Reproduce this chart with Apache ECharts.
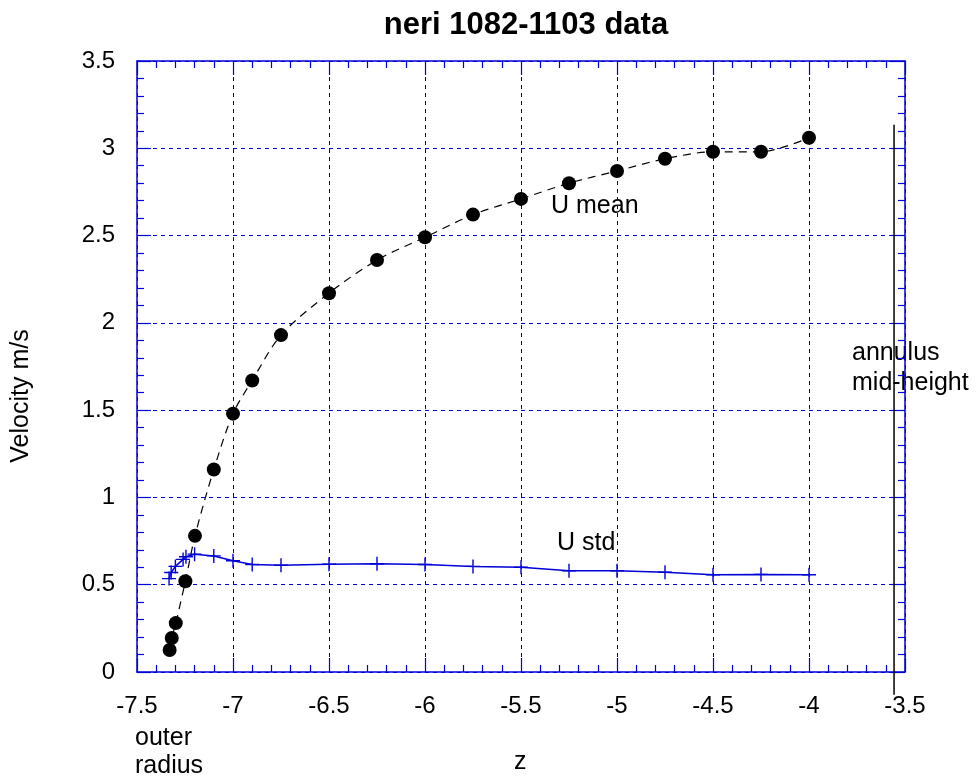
<!DOCTYPE html>
<html>
<head>
<meta charset="utf-8">
<script src="https://cdn.jsdelivr.net/npm/echarts@6/dist/echarts.min.js"></script>
<style>html,body{margin:0;padding:0;background:#fff}#c{width:977px;height:778px}</style>
</head>
<body>
<div id="c"></div>
<script>
// U mean: z positions and velocities
const meanZ = [-7.33, -7.319, -7.298, -7.248, -7.198, -7.10, -7.0, -6.90, -6.75, -6.5, -6.25, -6.0, -5.75, -5.5, -5.25, -5.0, -4.75, -4.5, -4.25, -4.0];
const meanU = [0.126, 0.195, 0.28, 0.52, 0.78, 1.16, 1.48, 1.67, 1.93, 2.17, 2.36, 2.49, 2.62, 2.71, 2.80, 2.87, 2.94, 2.98, 2.98, 3.06];
// U std
const stdZ = [-7.333, -7.322, -7.30, -7.26, -7.245, -7.2, -7.1, -7.0, -6.9, -6.75, -6.5, -6.25, -6.0, -5.75, -5.5, -5.25, -5.0, -4.75, -4.5, -4.25, -4.0];
const stdU = [0.535, 0.57, 0.605, 0.645, 0.66, 0.675, 0.665, 0.637, 0.616, 0.612, 0.617, 0.62, 0.616, 0.605, 0.60, 0.58, 0.58, 0.572, 0.557, 0.559, 0.557];
// annulus mid-height marker line
const midZ = [-3.557, -3.557];
const midU = [3.135, -0.13];

const xTicks = {min: -7.5, max: -3.5, interval: 0.5};
const yTicks = {min: 0, max: 3.5, interval: 0.5};

const BLUE = '#0000d8';
const FONT = 'Liberation Sans, Arial, sans-serif';
const zip = (a, b) => a.map((v, i) => [v, b[i]]);

const chart = echarts.init(document.getElementById('c'), null, {renderer: 'canvas'});
function axisCommon(show) {
  return {
    axisLine: {show: true, onZero: false, lineStyle: {color: BLUE, width: 1.5}},
    axisTick: {show: true, inside: true, length: 14, lineStyle: {color: BLUE, width: 1.2}},
    minorTick: {show: true, splitNumber: 5, length: 7, lineStyle: {color: BLUE, width: 1.2}},
    splitLine: {show: show, lineStyle: {color: BLUE, type: [4, 4], width: 1}},
  };
}
const option = {
  animation: false,
  backgroundColor: '#fff',
  title: {
    text: 'neri 1082-1103 data', left: 521, top: 5, textAlign: 'center',
    textStyle: {fontFamily: FONT, fontSize: 31, fontWeight: 'bold', color: '#000'}
  },
  grid: {left: 137, right: 72, top: 61, bottom: 106, containLabel: false},
  xAxis: [
    Object.assign({type: 'value', position: 'bottom', min: xTicks.min, max: xTicks.max, interval: xTicks.interval,
      axisLabel: {color: '#000', fontFamily: FONT, fontSize: 24, margin: 22}}, axisCommon(true)),
    Object.assign({type: 'value', position: 'top', min: xTicks.min, max: xTicks.max, interval: xTicks.interval,
      axisLabel: {show: false}}, axisCommon(false))
  ],
  yAxis: [
    Object.assign({type: 'value', position: 'left', min: yTicks.min, max: yTicks.max, interval: yTicks.interval,
      axisLabel: {color: '#000', fontFamily: FONT, fontSize: 24, margin: 22}}, axisCommon(true)),
    Object.assign({type: 'value', position: 'right', min: yTicks.min, max: yTicks.max, interval: yTicks.interval,
      axisLabel: {show: false}}, axisCommon(false))
  ],
  series: [
    {
      type: 'line', name: 'U mean', data: zip(meanZ, meanU), smooth: 0.3,
      symbol: 'circle', symbolSize: 14, itemStyle: {color: '#000'},
      lineStyle: {color: '#000', width: 1.2, type: [8, 6]}, z: 3
    },
    {
      type: 'line', name: 'U std', data: zip(stdZ, stdU),
      symbol: 'path://M-0.1,-1H0.1V-0.1H1V0.1H0.1V1H-0.1V0.1H-1V-0.1H-0.1Z',
      symbolSize: 14, itemStyle: {color: BLUE},
      lineStyle: {color: BLUE, width: 1.5}, z: 2
    },
    {
      type: 'line', name: 'mid', data: zip(midZ, midU), symbol: 'none', clip: false,
      lineStyle: {color: '#000', width: 1.5}, z: 4, silent: true
    }
  ],
  graphic: [
    {type: 'text', left: 514, top: 750, style: {text: 'z', fontFamily: FONT, fontSize: 25, fill: '#000'}},
    {type: 'text', x: 21, y: 396, rotation: Math.PI / 2, style: {text: 'Velocity m/s', fontFamily: FONT, fontSize: 25, fill: '#000', textAlign: 'center', textVerticalAlign: 'middle'}},
    {type: 'text', left: 135, top: 724, style: {text: 'outer\nradius', fontFamily: FONT, fontSize: 25, lineHeight: 28, fill: '#000'}},
    {type: 'text', left: 852, top: 338, style: {text: 'annulus\nmid-height', fontFamily: FONT, fontSize: 25, lineHeight: 30, fill: '#000'}},
    {type: 'text', left: 551, top: 194, style: {text: 'U mean', fontFamily: FONT, fontSize: 25, fill: '#000'}},
    {type: 'text', left: 557, top: 531, style: {text: 'U std', fontFamily: FONT, fontSize: 25, fill: '#000'}}
  ]
};
chart.setOption(option);
</script>
</body>
</html>
